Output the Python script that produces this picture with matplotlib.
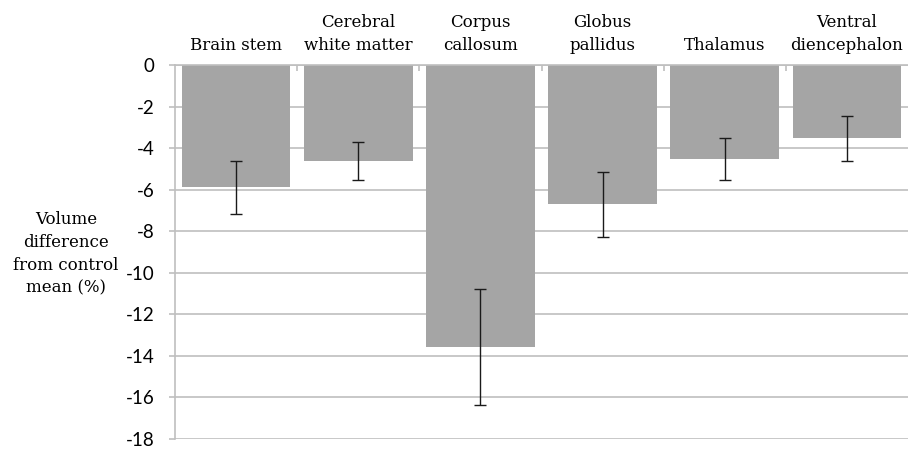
import matplotlib
matplotlib.use("Agg")
import matplotlib.pyplot as plt
import numpy as np

categories = ["Brain stem", "Cerebral\nwhite matter", "Corpus\ncallosum",
              "Globus\npallidus", "Thalamus", "Ventral\ndiencephalon"]
values = [-5.88, -4.62, -13.55, -6.71, -4.52, -3.53]
errors = [1.28, 0.92, 2.79, 1.55, 1.02, 1.07]
yticks = [0, -2, -4, -6, -8, -10, -12, -14, -16, -18]

fig = plt.figure(figsize=(9.08, 4.51), dpi=100)
ax = fig.add_axes([175/908, 1-439/451, 1-175/908, (439-65)/451])

x = np.arange(len(categories))
grid_c = "#BFBFBF"
ax.bar(x, values, width=0.89, color="#A5A5A5", zorder=2)
ax.errorbar(x, values, yerr=errors, fmt="none", ecolor="#1a1a1a",
            elinewidth=1.0, capsize=4.5, capthick=1.0, zorder=3)

ax.set_xlim(-0.5, len(categories) - 0.5)
ax.set_ylim(-18, 0)
ax.set_yticks(yticks)
ax.set_yticklabels([str(v) for v in yticks], family="Lato", fontsize=13.5)
ax.yaxis.grid(True, color=grid_c, linewidth=1.2, zorder=0)
ax.set_axisbelow(True)

for s in ["right", "bottom"]:
    ax.spines[s].set_visible(False)
ax.spines["left"].set_color(grid_c)
ax.spines["left"].set_linewidth(1.2)
ax.spines["top"].set_color(grid_c)
ax.spines["top"].set_linewidth(1.2)

ax.tick_params(axis="y", length=4.5, color=grid_c, width=1.2, pad=10, labelcolor="black")

ax.xaxis.tick_top()
ax.set_xticks(x)
ax.set_xticklabels(categories, family="DejaVu Serif", fontsize=12, linespacing=1.45)
ax.tick_params(axis="x", which="major", length=0, pad=8)
ax.set_xticks(np.arange(0.5, len(categories) - 0.5, 1.0), minor=True)
ax.tick_params(axis="x", which="minor", direction="in", length=4, color=grid_c, width=1.2, top=True)

fig.text(66/908, 1-254/451, "Volume\ndifference\nfrom control\nmean (%)",
         ha="center", va="center", family="DejaVu Serif", fontsize=12, linespacing=1.45)

fig.savefig("out.png", dpi=100)
